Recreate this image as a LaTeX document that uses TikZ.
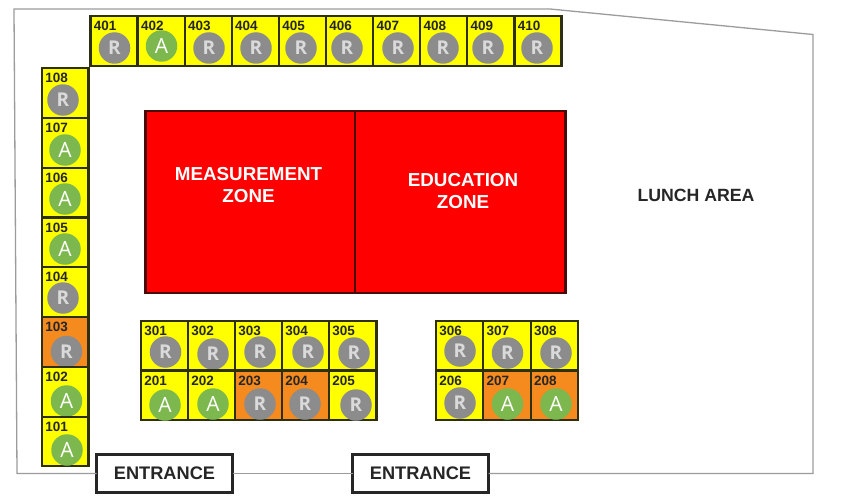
\documentclass[tikz,border=0pt]{standalone}
\usepackage{fontspec}
\setmainfont{Liberation Sans}
\newfontfamily\letterfont{Open Sans}
\definecolor{cellyellow}{HTML}{FFFF00}
\definecolor{cellorange}{HTML}{F58A1F}
\definecolor{cellline}{HTML}{2E2E10}
\definecolor{dotgray}{HTML}{8C8C8C}
\definecolor{dotgreen}{HTML}{7DB84E}
\definecolor{lettergray}{HTML}{DADADA}
\definecolor{zonered}{HTML}{FE0000}
\definecolor{zoneline}{HTML}{4A0A0A}
\definecolor{outline}{HTML}{9C9C9C}
\tikzset{
  x=1pt,y=-1pt,
  cellbox/.style={draw=cellline,line width=2.2pt,inner sep=0pt,outer sep=0pt,anchor=north west},
  celltag/.style={inner sep=0pt,anchor=base west,font=\bfseries\fontsize{13.5}{13.5}\selectfont,text=black!85},
  dotR/.style={circle,fill=dotgray,inner sep=0pt,minimum size=31.5pt,text=lettergray,font=\letterfont\bfseries\fontsize{19}{19}\selectfont},
  dotA/.style={circle,fill=dotgreen,inner sep=0pt,minimum size=31.5pt,text=white,font=\letterfont\fontsize{21}{21}\selectfont},
  zonebox/.style={draw=zoneline,line width=2.2pt,fill=zonered,inner sep=0pt,outer sep=0pt,anchor=north west},
  zonetext/.style={align=center,text=white,font=\bfseries\fontsize{18.8}{22}\selectfont,inner sep=0pt},
  entrybox/.style={draw=black!85,line width=2.2pt,fill=white,inner sep=0pt,outer sep=0pt,anchor=north west,minimum width=136pt,minimum height=38pt,font=\bfseries\fontsize{18.2}{18.2}\selectfont,text=black!85},
  wall/.style={draw=outline,line width=1.3pt,line join=miter},
}
% name, left, top, width, height, fill, dot x, dot y, letter
\newcommand{\seat}[9]{%
  \node[cellbox,fill=#6,minimum width=#4pt,minimum height=#5pt] (c#1) at (#2,#3) {};
  \node[celltag] (t#1) at ($(#2,#3)+(3.2,14.5)$) {#1};
  \node[dot#9] (d#1) at (#7,#8) {#9};
}
\usetikzlibrary{calc}
\begin{document}
\begin{tikzpicture}
\useasboundingbox (0,0) rectangle (843,503);
\fill[white] (0,0) rectangle (843,503);

\node[entrybox] (e1) at (96.5,454.5) {ENTRANCE};
\node[entrybox] (e2) at (352.5,454.5) {ENTRANCE};
\coordinate (w1) at (17,473.5);
\coordinate (w2) at (14,9);
\coordinate (w3) at (550,9);
\coordinate (w4) at (813,34.5);
\coordinate (w5) at (813,473.5);
\draw[wall] (e1.west) -- (w1) -- (w2) -- (w3) -- (w4) -- (w5) -- (e2.east);
\draw[wall] (e1.east) -- (e2.west);

\seat{401}{90.5}{16}{47}{50}{cellyellow}{114.5}{48}{R}
\seat{402}{137.6}{16}{47}{50}{cellyellow}{161.5}{46}{A}
\seat{403}{184.7}{16}{47}{50}{cellyellow}{209}{48}{R}
\seat{404}{231.8}{16}{47}{50}{cellyellow}{256}{48}{R}
\seat{405}{278.9}{16}{47}{50}{cellyellow}{301}{48}{R}
\seat{406}{326}{16}{47}{50}{cellyellow}{347}{48}{R}
\seat{407}{373.1}{16}{47}{50}{cellyellow}{398}{48}{R}
\seat{408}{420.2}{16}{47}{50}{cellyellow}{443}{48}{R}
\seat{409}{467.3}{16}{47}{50}{cellyellow}{488}{48}{R}
\seat{410}{514.4}{16}{47}{50}{cellyellow}{537}{48}{R}

\seat{108}{42}{68}{46.5}{50}{cellyellow}{63}{100}{R}
\seat{107}{42}{118}{46.5}{50}{cellyellow}{65}{150}{A}
\seat{106}{42}{168}{46.5}{50}{cellyellow}{65}{199}{A}
\seat{105}{42}{217.5}{46.5}{50}{cellyellow}{65}{249}{A}
\seat{104}{42}{267}{46.5}{50}{cellyellow}{63}{298}{R}
\seat{103}{42}{317}{46.5}{50}{cellorange}{66.5}{351.5}{R}
\seat{102}{42}{367}{46.5}{50}{cellyellow}{66.5}{401}{A}
\seat{101}{42}{417}{46.5}{49}{cellyellow}{67}{450}{A}

\seat{301}{141}{321}{47}{49.5}{cellyellow}{165.5}{352}{R}
\seat{302}{188}{321}{47}{49.5}{cellyellow}{213}{354}{R}
\seat{303}{235}{321}{47}{49.5}{cellyellow}{260}{352}{R}
\seat{304}{282}{321}{47}{49.5}{cellyellow}{308}{352}{R}
\seat{305}{329}{321}{47.5}{49.5}{cellyellow}{354}{353}{R}
\seat{201}{141}{370.5}{47}{49.5}{cellyellow}{165}{405}{A}
\seat{202}{188}{370.5}{47}{49.5}{cellyellow}{213}{404}{A}
\seat{203}{235}{370.5}{47}{49.5}{cellorange}{260}{404}{R}
\seat{204}{282}{370.5}{47}{49.5}{cellorange}{305}{404}{R}
\seat{205}{329}{370.5}{47.5}{49.5}{cellyellow}{356}{405}{R}

\seat{306}{436}{321}{47.3}{49.5}{cellyellow}{460}{351}{R}
\seat{307}{483.3}{321}{47.3}{49.5}{cellyellow}{507.5}{353}{R}
\seat{308}{530.6}{321}{47.3}{49.5}{cellyellow}{556}{353}{R}
\seat{206}{436}{370.5}{47.3}{49.5}{cellyellow}{460}{403}{R}
\seat{207}{483.3}{370.5}{47.3}{49.5}{cellorange}{507.5}{404}{A}
\seat{208}{530.6}{370.5}{47.3}{49.5}{cellorange}{556}{404}{A}

\node[zonebox,minimum width=209.5pt,minimum height=182pt] (mz) at (145.5,111) {};
\node[zonebox,minimum width=210.5pt,minimum height=182pt] (ez) at (355,111) {};
\node[zonetext] (mt) at (248.5,185) {MEASUREMENT\\ZONE};
\node[zonetext] (et) at (463,191) {EDUCATION\\ZONE};
\node[inner sep=0pt,text=black!85,font=\bfseries\fontsize{17.7}{17.7}\selectfont] (lunch) at (696,195) {LUNCH AREA};
\end{tikzpicture}
\end{document}
